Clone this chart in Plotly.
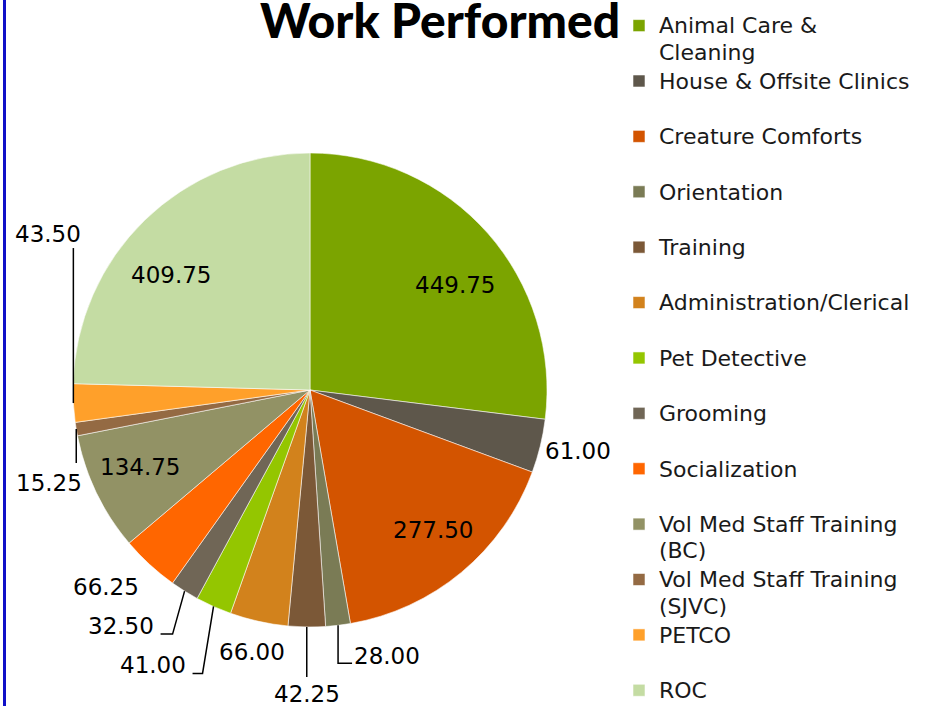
import math
import plotly.graph_objects as go

# ---------------- data ----------------
categories = [
    "Animal Care &<br>Cleaning",
    "House & Offsite Clinics",
    "Creature Comforts",
    "Orientation",
    "Training",
    "Administration/Clerical",
    "Pet Detective",
    "Grooming",
    "Socialization",
    "Vol Med Staff Training<br>(BC)",
    "Vol Med Staff Training<br>(SJVC)",
    "PETCO",
    "ROC",
]
hours = [449.75, 61.00, 277.50, 28.00, 42.25, 66.00, 41.00, 32.50, 66.25,
         134.75, 15.25, 43.50, 409.75]

# ---------------- styling ----------------
colors = ["#7BA400", "#5E574B", "#D35400", "#7A7B55", "#7B5837", "#D2821C",
          "#94C600", "#706656", "#FF6600", "#929265", "#946A43", "#FFA02A",
          "#C4DCA3"]

W, H = 926, 706
CX, CY, R = 310, 390, 237          # pie centre / radius in pixels
FONT = "DejaVu Sans"

# label placement style per slice:
#  ("plain", radial factor, dx, dy)
#  ("leader", dx_elbow, dy_elbow, tail_dx, label_dx, label_dy)
placement = [
    ("plain", 0.75, 12, 13),
    ("plain", 1.16, 1, -4),
    ("plain", 0.75, 9, 3),
    ("leader", 0, 38, 14, 35, -7),
    ("leader", 0, 50, 0, 0, 17),
    ("plain", 1.14, 0, -2),
    ("leader", -11, 67, -10, -40, -8),
    ("leader", -12, 43, -12, -40, -8),
    ("plain", 1.20, -11, -12),
    ("plain", 0.75, -10, 0),
    ("leader", 0, 34, 0, -27, 20),
    ("leader", 0, -155, 0, -25, -14),
    ("plain", 0.75, -15, 12),
]


def px(x):
    return x / W


def py(y):
    return 1 - y / H


def legend_label(name):
    lines = name.split("<br>")
    if len(lines) == 1:
        lines.append("\u00a0")
    return "<br>".join(f"<span style='font-size:22px'>{s}</span>" for s in lines)


legend_names = [legend_label(c) for c in categories]

fig = go.Figure(
    go.Pie(
        labels=legend_names,
        values=hours,
        sort=False,
        direction="clockwise",
        rotation=0,
        marker=dict(colors=colors, line=dict(color="rgba(255,255,255,0.7)", width=0.8)),
        textinfo="none",
        domain=dict(x=[px(CX - R), px(CX + R)], y=[py(CY + R), py(CY - R)]),
        automargin=False,
        hovertemplate="%{label}: %{value:.2f}<extra></extra>",
    )
)

# data labels, positioned from the slice angles
total = sum(hours)
cum = 0.0
annotations = []
shapes = []
for v, spec in zip(hours, placement):
    mid = (cum + v / 2) / total * 2 * math.pi
    cum += v
    sx, sy = math.sin(mid), -math.cos(mid)
    text = f"{v:.2f}"
    if spec[0] == "plain":
        _, f, dx, dy = spec
        lx, ly = CX + f * R * sx + dx, CY + f * R * sy + dy
    else:
        _, ex, ey, tail, ldx, ldy = spec
        rx, ry = CX + R * sx, CY + R * sy
        bx, by = rx + ex, ry + ey
        tx, ty = bx + tail, by
        path = f"M {px(rx)},{py(ry)} L {px(bx)},{py(by)}"
        if tail:
            path += f" L {px(tx)},{py(ty)}"
        shapes.append(dict(type="path", path=path, xref="paper", yref="paper",
                           line=dict(color="#000000", width=1.5)))
        lx, ly = tx + ldx, ty + ldy
    annotations.append(dict(x=px(lx), y=py(ly), xref="paper", yref="paper",
                            text=text, showarrow=False, xanchor="center",
                            yanchor="middle",
                            font=dict(family=FONT, size=23, color="#000000")))

# left blue frame line
shapes.append(dict(type="line", xref="paper", yref="paper", x0=px(4.5), x1=px(4.5),
                   y0=0, y1=1, line=dict(color="#1010C8", width=3)))

fig.update_layout(
    width=W,
    height=H,
    margin=dict(l=0, r=0, t=0, b=0, autoexpand=False),
    paper_bgcolor="#FFFFFF",
    plot_bgcolor="#FFFFFF",
    title=dict(text="Work Performed", x=px(440), xanchor="center",
               y=py(21), yanchor="middle", xref="paper", yref="container",
               font=dict(family="Lato", size=48, color="#000000", weight=900)),
    legend=dict(x=px(619), xanchor="left", y=py(6), yanchor="top",
                font=dict(family=FONT, size=20.15, color="#1A1A1A"),
                valign="top", bgcolor="rgba(0,0,0,0)", traceorder="normal",
                maxheight=800),
    annotations=annotations,
    shapes=shapes,
    showlegend=True,
)

fig.write_html(
    "out.html",
    config={"displayModeBar": False},
    post_script="document.body.style.margin='0';document.body.style.overflow='hidden';",
)
